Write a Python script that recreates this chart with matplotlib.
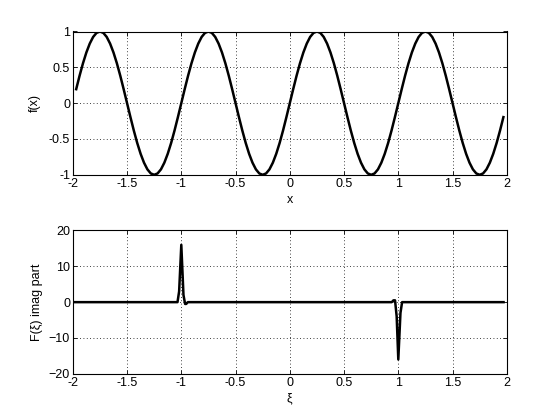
import matplotlib
matplotlib.use("Agg")
import matplotlib.pyplot as plt

plt.rcParams["font.family"] = ["Liberation Sans", "DejaVu Sans"]
plt.rcParams["font.size"] = 9

# top panel: f(x), samples (step 1/32)
x_top = [-1.96875 + k / 32 for k in range(127)]
f_top = [
    0.195, 0.383, 0.556, 0.707, 0.831, 0.924, 0.981, 1.0,
    0.981, 0.924, 0.831, 0.707, 0.556, 0.383, 0.195, 0.0,
    -0.195, -0.383, -0.556, -0.707, -0.831, -0.924, -0.981, -1.0,
    -0.981, -0.924, -0.831, -0.707, -0.556, -0.383, -0.195, 0.0,
    0.195, 0.383, 0.556, 0.707, 0.831, 0.924, 0.981, 1.0,
    0.981, 0.924, 0.831, 0.707, 0.556, 0.383, 0.195, 0.0,
    -0.195, -0.383, -0.556, -0.707, -0.831, -0.924, -0.981, -1.0,
    -0.981, -0.924, -0.831, -0.707, -0.556, -0.383, -0.195, 0.0,
    0.195, 0.383, 0.556, 0.707, 0.831, 0.924, 0.981, 1.0,
    0.981, 0.924, 0.831, 0.707, 0.556, 0.383, 0.195, 0.0,
    -0.195, -0.383, -0.556, -0.707, -0.831, -0.924, -0.981, -1.0,
    -0.981, -0.924, -0.831, -0.707, -0.556, -0.383, -0.195, 0.0,
    0.195, 0.383, 0.556, 0.707, 0.831, 0.924, 0.981, 1.0,
    0.981, 0.924, 0.831, 0.707, 0.556, 0.383, 0.195, 0.0,
    -0.195, -0.383, -0.556, -0.707, -0.831, -0.924, -0.981, -1.0,
    -0.981, -0.924, -0.831, -0.707, -0.556, -0.383, -0.195,
]

# bottom panel: imaginary part of the transform
xi = [-2.0, -1.035, -1.02, -1.0, -0.98, -0.965, -0.955, -0.94,
      0.94, 0.955, 0.97, 0.985, 1.0, 1.02, 1.035, 1.97]
F_imag = [0.0, 0.0, 3.0, 16.0, 2.0, -0.5, -0.5, 0.0,
          0.0, 0.5, 0.5, -4.0, -16.0, -3.0, 0.0, 0.0]

xticks = [-2, -1.5, -1, -0.5, 0, 0.5, 1, 1.5, 2]
xticklabels = ["-2", "-1.5", "-1", "-0.5", "0", "0.5", "1", "1.5", "2"]

fig = plt.figure(figsize=(5.6, 4.2), dpi=100)
ax1 = fig.add_axes([0.13, 0.5838, 0.775, 0.3412])
ax2 = fig.add_axes([0.13, 0.11, 0.775, 0.3412])


def style(ax):
    ax.set_xlim(-2, 2)
    ax.set_xticks(xticks)
    ax.set_xticklabels(xticklabels)
    ax.grid(True, color="black", linestyle=(0, (1, 3)), linewidth=0.6)
    ax.tick_params(direction="in", top=True, right=True, length=3,
                   width=0.6, pad=2)
    for s in ax.spines.values():
        s.set_linewidth(0.8)


ax1.plot(x_top, f_top, color="black", lw=1.8)
style(ax1)
ax1.set_ylim(-1, 1)
ax1.set_yticks([-1, -0.5, 0, 0.5, 1])
ax1.set_yticklabels(["-1", "-0.5", "0", "0.5", "1"])
ax1.set_xlabel("x", labelpad=3)
ax1.set_ylabel("f(x)", labelpad=6)

ax2.plot(xi, F_imag, color="black", lw=1.8)
style(ax2)
ax2.set_ylim(-20, 20)
ax2.set_yticks([-20, -10, 0, 10, 20])
ax2.set_xlabel("ξ", labelpad=3)
ax2.set_ylabel("F(ξ) imag part", labelpad=4)

fig.savefig("out.png", dpi=100)
